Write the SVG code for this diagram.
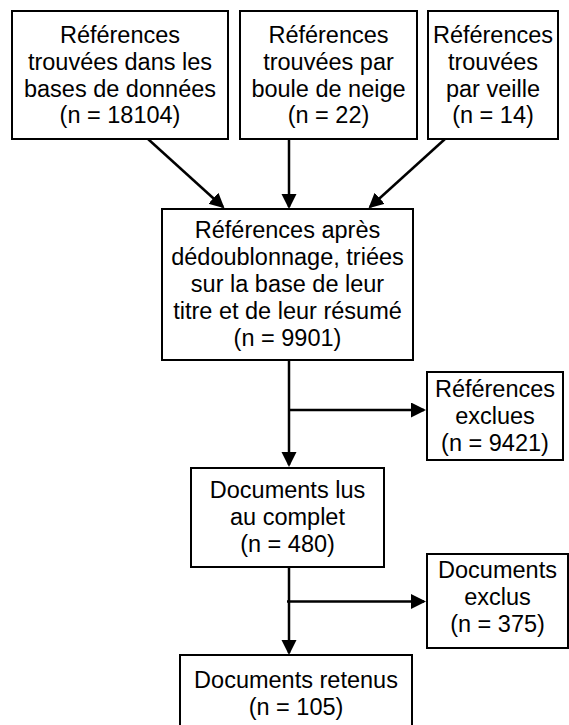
<svg xmlns="http://www.w3.org/2000/svg" width="569" height="725" viewBox="0 0 569 725">
<style>
.box{fill:#fff;stroke:#000;stroke-width:2}
.t{font-family:"Liberation Sans",Arial,sans-serif;font-size:23.5px;fill:#000;text-anchor:middle}
.c{fill:none;stroke:#000;stroke-width:2.5}
</style>
<defs>
<marker id="ah" markerUnits="userSpaceOnUse" markerWidth="17" markerHeight="16" refX="13" refY="7.5" orient="auto">
<path d="M0,0 L15,7.5 L0,15 z" fill="#000"/>
</marker>
</defs>
<rect width="569" height="725" fill="#fff"/>
<g id="connectors">
<line class="c" x1="148" y1="139" x2="223" y2="207" marker-end="url(#ah)"/>
<line class="c" x1="289" y1="139" x2="289" y2="207" marker-end="url(#ah)"/>
<line class="c" x1="445" y1="139" x2="370" y2="207" marker-end="url(#ah)"/>
<line class="c" x1="289" y1="360" x2="289" y2="465" marker-end="url(#ah)"/>
<line class="c" x1="288" y1="410" x2="424" y2="410" marker-end="url(#ah)"/>
<line class="c" x1="289" y1="567" x2="289" y2="653" marker-end="url(#ah)"/>
<line class="c" x1="287" y1="601.5" x2="424" y2="601.5" marker-end="url(#ah)"/>
</g>
<g id="n1">
<rect class="box" x="12" y="11" width="216" height="128"/>
<text class="t" x="120" y="43">Références</text>
<text class="t" x="120" y="70">trouvées dans les</text>
<text class="t" x="120" y="97">bases de données</text>
<text class="t" x="120" y="123">(n = 18104)</text>
</g>
<g id="n2">
<rect class="box" x="240" y="11" width="177" height="128"/>
<text class="t" x="328.5" y="43">Références</text>
<text class="t" x="328.5" y="70">trouvées par</text>
<text class="t" x="328.5" y="97">boule de neige</text>
<text class="t" x="328.5" y="123">(n = 22)</text>
</g>
<g id="n3">
<rect class="box" x="428" y="11" width="130" height="128"/>
<text class="t" x="493" y="43">Références</text>
<text class="t" x="493" y="70">trouvées</text>
<text class="t" x="493" y="97">par veille</text>
<text class="t" x="493" y="123">(n = 14)</text>
</g>
<g id="n4">
<rect class="box" x="162" y="209" width="251" height="151"/>
<text class="t" x="287.5" y="238">Références après</text>
<text class="t" x="287.5" y="265">dédoublonnage, triées</text>
<text class="t" x="287.5" y="292">sur la base de leur</text>
<text class="t" x="287.5" y="319">titre et de leur résumé</text>
<text class="t" x="287.5" y="346">(n = 9901)</text>
</g>
<g id="n5">
<rect class="box" x="427" y="372" width="136" height="88"/>
<text class="t" x="495" y="397">Références</text>
<text class="t" x="495" y="424">exclues</text>
<text class="t" x="495" y="451">(n = 9421)</text>
</g>
<g id="n6">
<rect class="box" x="191" y="468" width="193" height="99"/>
<text class="t" x="287.5" y="498">Documents lus</text>
<text class="t" x="287.5" y="525">au complet</text>
<text class="t" x="287.5" y="552">(n = 480)</text>
</g>
<g id="n7">
<rect class="box" x="427" y="554" width="141" height="94"/>
<text class="t" x="497.5" y="578">Documents</text>
<text class="t" x="497.5" y="605">exclus</text>
<text class="t" x="497.5" y="632">(n = 375)</text>
</g>
<g id="n8">
<rect class="box" x="180" y="655" width="232" height="80"/>
<text class="t" x="296" y="688">Documents retenus</text>
<text class="t" x="296" y="715">(n = 105)</text>
</g>
</svg>
